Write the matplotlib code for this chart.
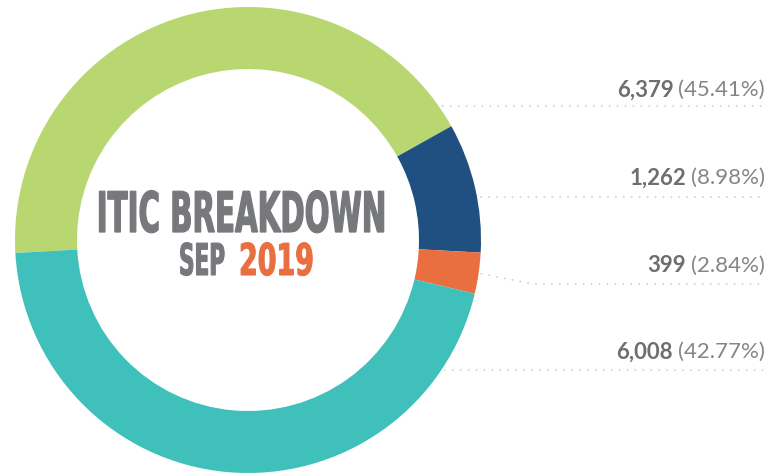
import numpy as np
import matplotlib.pyplot as plt
from matplotlib.patheffects import AbstractPathEffect
from matplotlib.transforms import Affine2D

# ring slices, clockwise from the left edge of the ring
ring_values = [6008, 1262, 399, 6379]
ring_colors = ['#b9d770', '#1f5081', '#e96e40', '#40c0bb']

# labels on the right, top to bottom
label_values = [6379, 1262, 399, 6008]

title_top = 'ITIC BREAKDOWN'
title_month = 'SEP'
title_year = '2019'

W, H = 769, 475
cx, cy, R, ring_w = 248, H - 240, 233, 62
start = 183.2


class Stretch(AbstractPathEffect):
    """stretch glyphs vertically from the baseline y0 (display px), optional outline"""

    def __init__(self, sy, y0, lw=0):
        super().__init__()
        self.sy, self.y0, self.lw = sy, y0, lw

    def draw_path(self, renderer, gc, tpath, affine, rgbFace=None):
        t = affine + Affine2D().translate(0, -self.y0).scale(1, self.sy).translate(0, self.y0)
        gc0 = renderer.new_gc()
        gc0.copy_properties(gc)
        gc0.set_linewidth(self.lw)
        if self.lw:
            gc0.set_foreground(rgbFace)
            gc0.set_joinstyle('miter')
        renderer.draw_path(gc0, tpath, t, rgbFace)
        gc0.restore()


fig = plt.figure(figsize=(W / 100, H / 100), dpi=100)
ax = fig.add_axes([0, 0, 1, 1])

wedges, _ = ax.pie(ring_values, colors=ring_colors, startangle=start,
                   counterclock=False, center=(cx, cy), radius=R,
                   wedgeprops=dict(width=ring_w, linewidth=0))
ax.set_xlim(0, W)
ax.set_ylim(0, H)
ax.set_aspect('equal')
ax.axis('off')

total = sum(label_values)
gray_b = '#6e6e6e'
gray_l = '#858585'
dot = '#c9c9c9'

# leader lines (y in picture pixels, measured from top)
line_y = [106, 197, 284, 370]
label_y = [90, 178, 266, 352]
x_end = 765


def ring_x(y):
    dy = (H - y) - cy
    return cx + np.sqrt(max(R ** 2 - dy ** 2, 0)) + 3


# orange slice mid angle for the bent leader
w_or = wedges[2]
mid = np.deg2rad((w_or.theta1 + w_or.theta2) / 2)
ox, oy = cx + (R + 2) * np.cos(mid), cy + (R + 2) * np.sin(mid)

for i, ly in enumerate(line_y):
    if label_values[i] == 399:
        xs = [ox, 533, x_end]
        ys = [oy, H - ly, H - ly]
    else:
        xs = [ring_x(ly), x_end]
        ys = [H - ly, H - ly]
    ax.plot(xs, ys, color=dot, lw=1.1, ls=(0, (1, 4.2)))

fig.canvas.draw()
renderer = fig.canvas.get_renderer()
inv = ax.transData.inverted()

for v, ty in zip(label_values, label_y):
    pct = f'({v / total * 100:.2f}%)'
    t1 = ax.text(x_end, H - ty, pct, ha='right', va='center',
                 fontsize=16, family='Lato', color=gray_l)
    bb = t1.get_window_extent(renderer)
    x0 = inv.transform((bb.x0, bb.y0))[0]
    ax.text(x0 - 5, H - ty, f'{v:,}', ha='right', va='center',
            fontsize=16, family='Lato', weight='bold', color=gray_b)


# centre title: DejaVu Sans Bold sized to the ink width, then stretched tall
def tall_text(s, x, base_y, cap_px, ink_w, color, ha, lw=1.0):
    lw_px = lw * 100 / 72
    t = ax.text(x, H - base_y, s, ha=ha, va='baseline', fontsize=20,
                family='DejaVu Sans', weight='bold', color=color)
    w0 = t.get_window_extent(renderer).width
    fs = 20 * (ink_w - lw_px) / w0
    t.set_fontsize(fs)
    sy = (cap_px - lw_px) / (0.729 * fs * 100 / 72)
    y0 = ax.transData.transform((0, H - base_y))[1]
    t.set_path_effects([Stretch(sy, y0, lw)])
    return t


tall_text(title_top, 241, 232, 42, 290, '#77787b', 'center', lw=0.9)
tall_text(title_month, 179, 275, 33, 47, '#77787b', 'left', lw=0.8)
tall_text(title_year, 239, 275, 33, 76, '#e96e40', 'left', lw=0.8)

fig.savefig('out.png', dpi=100)
